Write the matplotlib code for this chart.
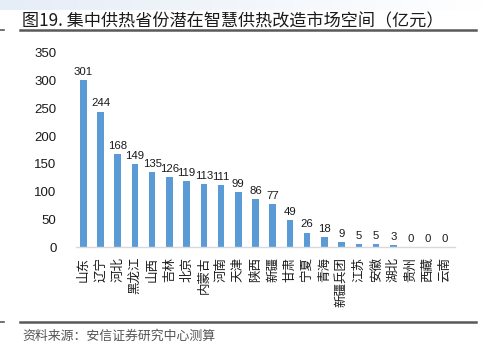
import matplotlib
matplotlib.use("Agg")
import matplotlib.pyplot as plt
import numpy as np
from matplotlib.lines import Line2D

categories = ["山东", "辽宁", "河北", "黑龙江", "山西", "吉林", "北京", "内蒙古", "河南", "天津",
              "陕西", "新疆", "甘肃", "宁夏", "青海", "新疆兵团", "江苏", "安徽", "湖北", "贵州",
              "西藏", "云南"]
values = [301, 244, 168, 149, 135, 126, 119, 113, 111, 99, 86, 77, 49, 26, 18, 9, 5, 5, 3, 0, 0, 0]
yticks = [0, 50, 100, 150, 200, 250, 300, 350]

title = "图19. 集中供热省份潜在智慧供热改造市场空间（亿元）"
source = "资料来源：安信证券研究中心测算"

plt.rcParams['font.family'] = ['Noto Sans CJK SC', 'DejaVu Sans']

W, H = 484, 355
fig = plt.figure(figsize=(W / 100, H / 100), dpi=100)

# top gradient band
gax = fig.add_axes([0, 1 - 10 / H, 1, 10 / H])
grad = np.linspace(0, 1, 256).reshape(1, -1)
c0 = np.array([0.90, 0.93, 0.97])
c1 = np.array([1.0, 1.0, 1.0])
img = c0[None, None, :] * (1 - grad[..., None]) + c1[None, None, :] * grad[..., None]
gax.imshow(img, aspect='auto', extent=[0, 1, 0, 1])
gax.set_axis_off()

# title and rules
fig.text(22 / W, 1 - 21 / H, title, fontsize=12.3, color='#1a1a1a', va='center', ha='left')
fig.add_artist(Line2D([20 / W, 476 / W], [1 - 30 / H, 1 - 30 / H], color='#595959', lw=1.8))
fig.add_artist(Line2D([0, 4 / W], [1 - 30 / H, 1 - 30 / H], color='#595959', lw=1.2))
fig.add_artist(Line2D([20 / W, 476 / W], [1 - 322 / H, 1 - 322 / H], color='#595959', lw=1.8))
fig.add_artist(Line2D([0, 4 / W], [1 - 322 / H, 1 - 322 / H], color='#595959', lw=1.2))
fig.text(22 / W, 1 - 336 / H, source, fontsize=9.3, color='#555555', va='center', ha='left',
         style='italic')

# main axes
ax = fig.add_axes([76 / W, 1 - 247 / H, (455 - 76) / W, (247 - 53) / H])
x = np.arange(len(categories))
bars = ax.bar(x, values, width=0.38, color='#5B9BD5')
for xi, v in zip(x, values):
    ax.text(xi, v + 6, str(v), ha='center', va='bottom', fontsize=8.2,
            family=['Liberation Sans', 'DejaVu Sans'], color='#1a1a1a')

ax.set_ylim(0, 350)
ax.set_xlim(-0.42, len(categories) - 0.42)
ax.set_yticks(yticks)
ax.set_yticklabels([str(t) for t in yticks], family=['Liberation Sans', 'DejaVu Sans'],
                   fontsize=9.5, color='#1a1a1a')
ax.set_xticks(x)
ax.set_xticklabels(categories, rotation=90, fontsize=9, color='#1a1a1a',
                   va='top', ha='center')
ax.tick_params(axis='both', length=0)
ax.tick_params(axis='y', pad=14)
ax.tick_params(axis='x', pad=7)
for s in ['top', 'right', 'left']:
    ax.spines[s].set_visible(False)
ax.spines['bottom'].set_color('#D9D9D9')
ax.spines['bottom'].set_linewidth(1.0)

fig.savefig("out.png", dpi=100)
